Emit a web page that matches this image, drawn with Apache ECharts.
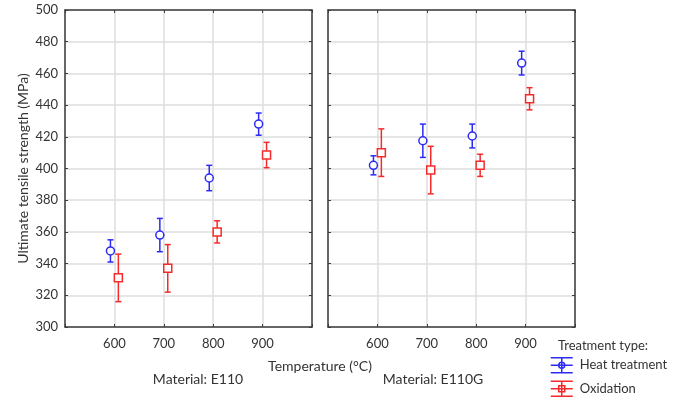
<!DOCTYPE html>
<html>
<head>
<meta charset="utf-8">
<script src="https://cdn.jsdelivr.net/npm/echarts@6/dist/echarts.min.js"></script>
<style>
  html, body {margin: 0; padding: 0; background: #fff;}
  #chart {width: 681px; height: 399px;}
</style>
</head>
<body>
<div id="chart"></div>
<script>
// temperatures (°C) on the x axis
const temps = [600, 700, 800, 900];
const xTicks = [600, 700, 800, 900];
const yTicks = [300, 320, 340, 360, 380, 400, 420, 440, 460, 480, 500];

// Material E110
const e110HeatMean = [348, 358, 394, 428];
const e110HeatErr = [7, 10.5, 8, 7];
const e110OxMean = [331, 337, 360, 408.5];
const e110OxErr = [15, 15, 7, 8];

// Material E110G
const e110gHeatMean = [402, 417.5, 420.5, 466.5];
const e110gHeatErr = [6, 10.5, 7.5, 7.5];
const e110gOxMean = [410, 399, 402, 444];
const e110gOxErr = [15, 15, 7, 7];

const BLUE = '#2b2bf5';
const RED = '#f52b2b';
const FONT = 'Lato';
const DODGE = 8;

const chart = echarts.init(document.getElementById('chart'));

const points = (mean, shift) => mean.map((v, i) => [temps[i] + shift, v]);
const bars = (mean, err, shift) => mean.map((v, i) => [temps[i] + shift, v - err[i], v + err[i]]);

const errorBar = (color) => (params, api) => {
  const x = api.value(0);
  const lo = api.coord([x, api.value(1)]);
  const hi = api.coord([x, api.value(2)]);
  const cap = 3;
  const style = {stroke: color, lineWidth: 1.5, fill: null};
  return {
    type: 'group',
    children: [
      {type: 'line', shape: {x1: lo[0], y1: lo[1], x2: hi[0], y2: hi[1]}, style},
      {type: 'line', shape: {x1: lo[0] - cap, y1: lo[1], x2: lo[0] + cap, y2: lo[1]}, style},
      {type: 'line', shape: {x1: hi[0] - cap, y1: hi[1], x2: hi[0] + cap, y2: hi[1]}, style}
    ]
  };
};

const grids = [
  {left: 65, right: 369, top: 10, bottom: 72},
  {left: 328, right: 106, top: 10, bottom: 72}
];

const lineCol = '#3c3c3c';
const xAxisBase = (gi, pos) => ({
  type: 'value', gridIndex: gi, position: pos,
  min: 500, max: 1000, interval: 100,
  axisLine: {show: true, onZero: false, lineStyle: {color: lineCol, width: 1.5}},
  axisTick: {show: true, inside: true, length: 3, lineStyle: {color: lineCol}},
  axisLabel: {
    show: pos === 'bottom', margin: 10, color: '#333', fontFamily: FONT, fontSize: 13,
    formatter: v => (xTicks.includes(v) ? String(v) : '')
  },
  splitLine: {show: pos === 'bottom', lineStyle: {color: '#dedede', width: 1.5}}
});
const yAxisBase = (gi, pos) => ({
  type: 'value', gridIndex: gi, position: pos,
  min: yTicks[0], max: yTicks[yTicks.length - 1], interval: 20,
  axisLine: {show: true, onZero: false, lineStyle: {color: lineCol, width: 1.5}},
  axisTick: {show: true, inside: true, length: 3, lineStyle: {color: lineCol}},
  axisLabel: {show: gi === 0 && pos === 'left', margin: 7, color: '#333', fontFamily: FONT, fontSize: 13},
  splitLine: {show: pos === 'left', lineStyle: {color: '#dedede', width: 1.5}}
});

const yName = Object.assign(yAxisBase(0, 'left'), {
  name: 'Ultimate tensile strength (MPa)',
  nameLocation: 'middle',
  nameGap: 35,
  nameTextStyle: {fontFamily: FONT, fontSize: 14, color: '#333'}
});

const heatIcon = 'path://M0,0.5H22M0,8H22M0,15.5H22M11,0.5V15.5M14,8A3,3,0,1,1,8,8A3,3,0,1,1,14,8Z';
const oxIcon = 'path://M0,0.5H22M0,8H22M0,15.5H22M11,0.5V15.5M8,5H14V11H8Z';

const scatterSeries = (name, data, xi, symbol, color, size) => ({
  name, type: 'scatter', xAxisIndex: xi, yAxisIndex: xi, data,
  symbol, symbolSize: size, z: 3,
  itemStyle: {color: '#fff', borderColor: color, borderWidth: 1.5, opacity: 1}
});
const barSeries = (name, data, xi, color) => ({
  name, type: 'custom', xAxisIndex: xi, yAxisIndex: xi, data,
  renderItem: errorBar(color), z: 2
});

const titleStyle = {fontFamily: FONT, fontSize: 14, fontWeight: 'normal', color: '#333'};

chart.setOption({
  backgroundColor: '#fff',
  animation: false,
  textStyle: {fontFamily: FONT},
  grid: grids,
  xAxis: [
    xAxisBase(0, 'bottom'), xAxisBase(1, 'bottom'),
    xAxisBase(0, 'top'), xAxisBase(1, 'top')
  ],
  yAxis: [
    yName, yAxisBase(1, 'left'),
    yAxisBase(0, 'right'), yAxisBase(1, 'right')
  ],
  title: [
    {text: 'Temperature (°C)', left: 320, top: 359, textAlign: 'center', padding: 0, textStyle: titleStyle},
    {text: 'Material: E110', left: 198, top: 372, textAlign: 'center', padding: 0, textStyle: titleStyle},
    {text: 'Material: E110G', left: 433, top: 372, textAlign: 'center', padding: 0, textStyle: titleStyle},
    {text: 'Treatment type:', left: 558, top: 339, padding: 0,
      textStyle: Object.assign({}, titleStyle, {fontSize: 13})}
  ],
  legend: {
    orient: 'vertical', left: 550, top: 357, padding: 0,
    itemWidth: 22, itemHeight: 16, itemGap: 7,
    textStyle: {fontFamily: FONT, fontSize: 13, color: '#333', padding: [0, 0, 0, 2]},
    data: [
      {name: 'Heat treatment', icon: heatIcon, itemStyle: {color: 'transparent', borderColor: BLUE, borderWidth: 1.5}},
      {name: 'Oxidation', icon: oxIcon, itemStyle: {color: 'transparent', borderColor: RED, borderWidth: 1.5}}
    ]
  },
  series: [
    barSeries('Heat treatment', bars(e110HeatMean, e110HeatErr, -DODGE), 0, BLUE),
    barSeries('Oxidation', bars(e110OxMean, e110OxErr, DODGE), 0, RED),
    barSeries('Heat treatment', bars(e110gHeatMean, e110gHeatErr, -DODGE), 1, BLUE),
    barSeries('Oxidation', bars(e110gOxMean, e110gOxErr, DODGE), 1, RED),
    scatterSeries('Heat treatment', points(e110HeatMean, -DODGE), 0, 'circle', BLUE, 8),
    scatterSeries('Oxidation', points(e110OxMean, DODGE), 0, 'rect', RED, 8),
    scatterSeries('Heat treatment', points(e110gHeatMean, -DODGE), 1, 'circle', BLUE, 8),
    scatterSeries('Oxidation', points(e110gOxMean, DODGE), 1, 'rect', RED, 8)
  ]
});
</script>
</body>
</html>
